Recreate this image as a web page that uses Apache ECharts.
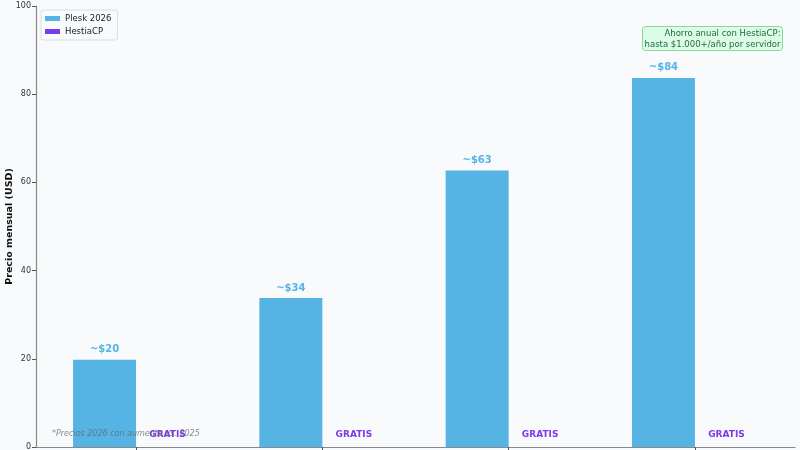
<!doctype html>
<html lang="es">
<head>
<meta charset="UTF-8">
<title>Plesk 2026 vs HestiaCP</title>
<script src="https://cdn.jsdelivr.net/npm/echarts@6/dist/echarts.min.js"></script>
<style>
  html, body { margin: 0; padding: 0; background: #f8fafc; }
  #main { width: 800px; height: 450px; }
</style>
</head>
<body>
<div id="main"></div>
<script>
// datos del grafico
var categorias = ['Web Admin', 'Web Pro', 'Web Host', 'Web Host Plus'];
var preciosPlesk = [19.8, 33.8, 62.7, 83.7];
var preciosHestia = [0, 0, 0, 0];
var etiquetasPlesk = ['~$20', '~$34', '~$63', '~$84'];
var ticksY = [0, 20, 40, 60, 80, 100];

var azul = '#56b4e4';
var morado = '#7c3aed';

// eje x numerico: una unidad por categoria, margen lateral igual que en el original
var posiciones = categorias.map(function (c, i) { return i; });
var margenX = 0.537;

var chart = echarts.init(document.getElementById('main'));
var option = {
    backgroundColor: '#f8fafc',
    animation: false,
    textStyle: { fontFamily: 'DejaVu Sans' },
    grid: { left: 36, right: 5, top: 6, bottom: 3, containLabel: false, outerBoundsMode: 'none' },
    legend: {
        left: 41, top: 10,
        orient: 'vertical',
        itemWidth: 15, itemHeight: 5, itemGap: 4,
        icon: 'rect',
        padding: [4, 6, 4, 4],
        backgroundColor: '#f8fafc',
        borderColor: '#dddddd', borderWidth: 1, borderRadius: 2,
        textStyle: { fontSize: 8.5, color: '#222' },
        data: ['Plesk 2026', 'HestiaCP']
    },
    xAxis: {
        type: 'value',
        min: -margenX, max: posiciones.length - 1 + margenX,
        axisLine: { show: true, onZero: false, lineStyle: { color: '#888', width: 1.2 } },
        axisTick: { show: true, customValues: posiciones, length: 4, lineStyle: { color: '#555' } },
        axisLabel: { show: false },
        splitLine: { show: false }
    },
    yAxis: {
        type: 'value',
        min: ticksY[0], max: ticksY[ticksY.length - 1], interval: 20,
        name: 'Precio mensual (USD)',
        nameLocation: 'middle',
        nameGap: 21,
        nameMoveOverlap: false,
        nameTextStyle: { fontSize: 9.5, fontWeight: 'bold', color: '#111' },
        axisLine: { show: true, onZero: false, lineStyle: { color: '#888', width: 1.2 } },
        axisTick: { show: true, length: 4, lineStyle: { color: '#555' } },
        axisLabel: { fontSize: 8, color: '#333', margin: 5 },
        splitLine: { show: false }
    },
    series: [
        {
            name: 'Plesk 2026',
            type: 'bar',
            data: preciosPlesk.map(function (v, i) { return [posiciones[i], v]; }),
            barWidth: 63,
            barGap: '0%',
            itemStyle: { color: azul },
            label: {
                show: true, position: 'top', distance: 5,
                formatter: function (p) { return etiquetasPlesk[p.dataIndex]; },
                color: azul, fontWeight: 'bold', fontSize: 10
            }
        },
        {
            name: 'HestiaCP',
            type: 'bar',
            data: preciosHestia.map(function (v, i) { return [posiciones[i], v]; }),
            barWidth: 63,
            itemStyle: { color: morado },
            label: {
                show: true, position: 'top', distance: 8,
                formatter: 'GRATIS',
                color: morado, fontWeight: 'bold', fontSize: 9
            }
        }
    ],
    graphic: [
        {
            type: 'text',
            left: 52, top: 430, z: 100,
            style: {
                text: '*Precios 2026 con aumento vs. 2025',
                fontSize: 8, fontStyle: 'italic',
                fill: 'rgba(100,100,110,0.75)',
                fontFamily: 'DejaVu Sans'
            }
        },
        {
            type: 'group',
            right: 17, top: 26,
            children: [
                {
                    type: 'rect',
                    shape: { x: 0, y: 0, width: 140, height: 24, r: 3 },
                    style: { fill: '#dcfce7', stroke: '#86d99a', lineWidth: 1 }
                },
                {
                    type: 'text',
                    x: 138, y: 1.5,
                    style: {
                        text: 'Ahorro anual con HestiaCP:\nhasta $1.000+/año por servidor',
                        align: 'right',
                        fontSize: 8.5, lineHeight: 11,
                        fill: '#1f6b3a',
                        fontFamily: 'DejaVu Sans'
                    }
                }
            ]
        }
    ]
};
chart.setOption(option);
</script>
</body>
</html>
